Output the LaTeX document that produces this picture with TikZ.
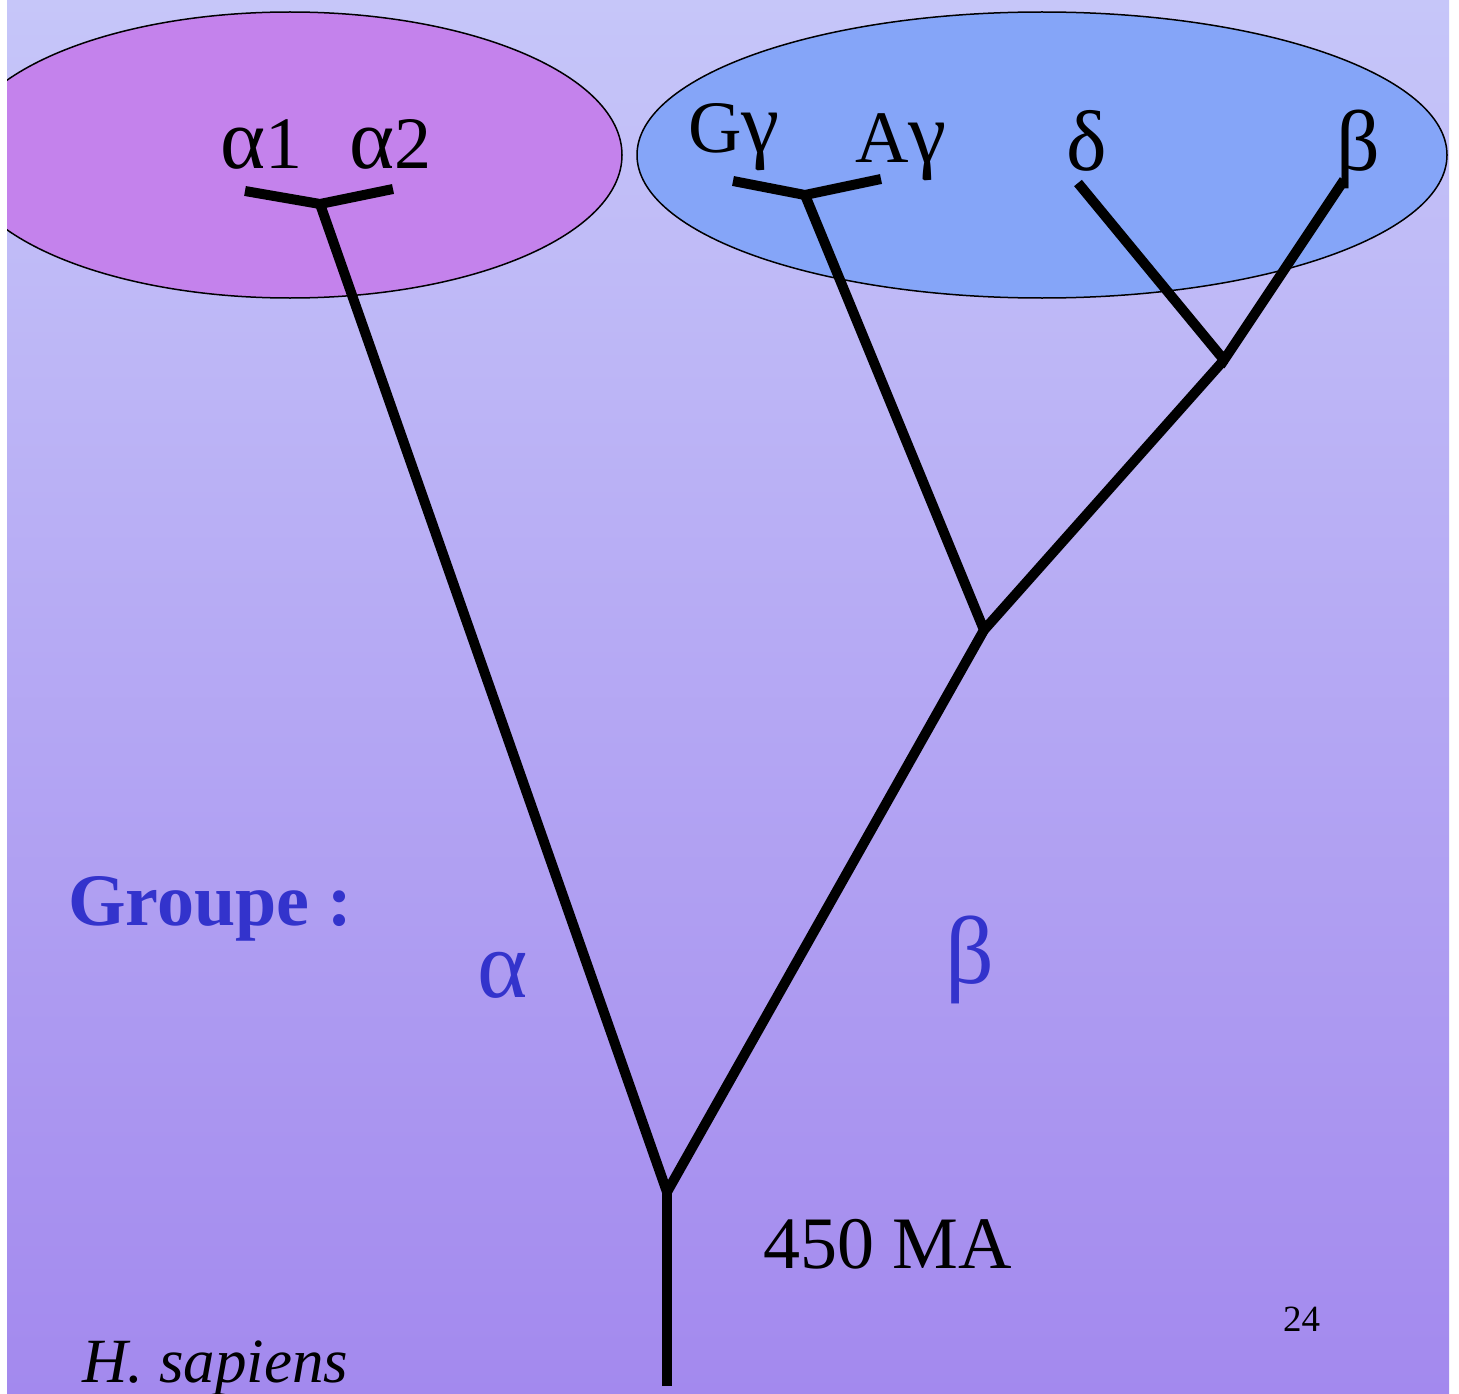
\documentclass[tikz,border=0pt]{standalone}
\usepackage{fontspec}
\setmainfont{Liberation Serif}
\definecolor{bgtop}{HTML}{C6C6F9}
\definecolor{bgbot}{HTML}{A389EE}
\definecolor{ellA}{HTML}{C482EC}
\definecolor{ellB}{HTML}{85A5F8}
\definecolor{grpblue}{HTML}{3333CC}
\newcommand\gkl[1]{{\fontsize{86}{90}\selectfont #1}}
\tikzset{
  branch/.style={line width=10pt, line join=miter},
  lbl/.style={anchor=base west, inner sep=0pt, font=\fontsize{74}{80}\selectfont},
  bluelbl/.style={anchor=base west, inner sep=0pt, text=grpblue, font=\fontsize{96}{100}\selectfont},
  ell/.style={draw=black, line width=1.5pt}
}
\begin{document}
\begin{tikzpicture}[x=1pt,y=-1pt]
\useasboundingbox (0,0) rectangle (1459,1394);
\fill[white] (0,0) rectangle (1459,1394);
\shade[top color=bgtop, bottom color=bgbot] (7,0) rectangle (1449,1394);
\begin{scope}
  \clip (7,0) rectangle (1449,1394);
  \filldraw[ell, fill=ellA] (290,155) ellipse [x radius=332, y radius=143];
  \filldraw[ell, fill=ellB] (1042,155) ellipse [x radius=405, y radius=143];
\end{scope}
% tree coordinates
\coordinate (rootb) at (667,1386);
\coordinate (root) at (667,1192);
\coordinate (ja) at (320,204);
\coordinate (a1) at (245,191);
\coordinate (a2) at (393,189);
\coordinate (jb) at (984,630);
\coordinate (jg) at (805,195);
\coordinate (g1) at (733,181);
\coordinate (g2) at (881,179);
\coordinate (jd) at (1224,360);
\coordinate (d) at (1078,183);
\coordinate (b) at (1344,180);
\draw[branch] (rootb) -- (root);
\draw[branch] (ja) -- (root) -- (jb);
\draw[branch] (a1) -- (ja) -- (a2);
\draw[branch] (jg) -- (jb) -- (jd);
\draw[branch] (g1) -- (jg) -- (g2);
\draw[branch] (d) -- (jd) -- (b);
% labels
\node[lbl] (la1) at (220,168) {\gkl{α}1};
\node[lbl] (la2) at (349,168) {\gkl{α}2};
\node[lbl] (lg) at (688,153) {G\gkl{γ}};
\node[lbl] (lag) at (855,162) {A\gkl{γ}};
\node[lbl] (ld) at (1066,170) {\gkl{δ}};
\node[lbl] (lb) at (1336,170) {\gkl{β}};
\node[anchor=base west, inner sep=0pt, text=grpblue, font=\bfseries\fontsize{74}{80}\selectfont] (grp) at (68,925) {Groupe :};
\node[bluelbl] (galpha) at (477,997) {α};
\node[bluelbl] (gbeta) at (945,983) {β};
\node[anchor=base west, inner sep=0pt, font=\fontsize{74}{80}\selectfont] (age) at (763,1268) {450 MA};
\node[anchor=base west, inner sep=0pt, font=\itshape\fontsize{63}{70}\selectfont] (hs) at (82,1382) {H. sapiens};
\node[anchor=base west, inner sep=0pt, font=\fontsize{37}{40}\selectfont] (pg) at (1283,1331) {24};
\end{tikzpicture}
\end{document}
